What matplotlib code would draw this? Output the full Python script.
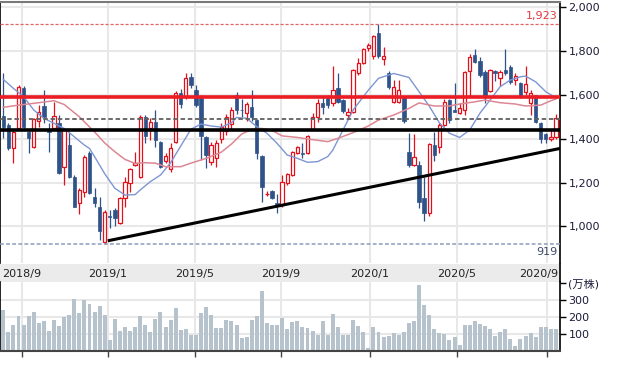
import matplotlib
matplotlib.use('Agg')
import matplotlib.pyplot as plt
import numpy as np

plt.rcParams['font.family'] = ['DejaVu Sans', 'Noto Sans CJK JP']

# weekly candles
opens = [1502, 1461, 1356, 1448, 1628, 1431, 1363, 1481, 1548, 1440,
         1446, 1472, 1270, 1370, 1226, 1106, 1158, 1335, 1136, 1090,
         931, 1047, 1075, 1015, 1128, 1199, 1280, 1226, 1496, 1446,
         1476, 1386, 1299, 1260, 1386, 1605, 1590, 1681, 1620, 1583,
         1405, 1295, 1310, 1396, 1435, 1466, 1598, 1532, 1517, 1545,
         1484, 1320, 1146, 1161, 1106, 1098, 1196, 1234, 1335, 1332,
         1333, 1442, 1499, 1563, 1583, 1560, 1628, 1575, 1507, 1522,
         1699, 1745, 1814, 1775, 1878, 1764, 1699, 1567, 1567, 1587,
         1340, 1280, 1280, 1128, 1061, 1370, 1363, 1462, 1575, 1532,
         1517, 1530, 1708, 1780, 1754, 1704, 1617, 1705, 1674, 1714,
         1726, 1666, 1651, 1613, 1560, 1598, 1469, 1420, 1396, 1405]
highs = [1698, 1470, 1440, 1645, 1638, 1440, 1495, 1552, 1620, 1470,
         1567, 1507, 1445, 1431, 1235, 1175, 1325, 1345, 1175, 1135,
         1075, 1074, 1085, 1135, 1227, 1265, 1340, 1505, 1505, 1493,
         1530, 1390, 1335, 1380, 1615, 1625, 1696, 1696, 1643, 1600,
         1410, 1385, 1395, 1470, 1510, 1545, 1613, 1580, 1567, 1620,
         1490, 1325, 1160, 1165, 1150, 1234, 1245, 1345, 1365, 1378,
         1415, 1515, 1580, 1590, 1600, 1730, 1696, 1580, 1540, 1715,
         1766, 1810, 1835, 1870, 1923, 1817, 1705, 1666, 1666, 1590,
         1425, 1420, 1300, 1226, 1380, 1431, 1470, 1580, 1580, 1654,
         1560, 1707, 1785, 1805, 1770, 1710, 1715, 1710, 1710, 1805,
         1735, 1700, 1655, 1730, 1620, 1600, 1475, 1425, 1440, 1511]
lows = [1401, 1350, 1289, 1440, 1445, 1334, 1355, 1454, 1470, 1340,
        1440, 1238, 1189, 1220, 1090, 1057, 1136, 1150, 1090, 939,
        919, 995, 1000, 1010, 1090, 1158, 1275, 1220, 1380, 1393,
        1363, 1268, 1290, 1250, 1380, 1540, 1580, 1630, 1545, 1302,
        1265, 1280, 1272, 1380, 1415, 1440, 1510, 1500, 1480, 1480,
        1306, 1113, 1140, 1125, 1063, 1090, 1190, 1230, 1330, 1311,
        1330, 1440, 1476, 1510, 1540, 1550, 1560, 1515, 1492, 1515,
        1690, 1740, 1800, 1760, 1765, 1734, 1625, 1560, 1560, 1470,
        1270, 1275, 1083, 1025, 1050, 1300, 1333, 1455, 1470, 1520,
        1510, 1505, 1590, 1745, 1680, 1560, 1612, 1660, 1640, 1690,
        1650, 1645, 1585, 1600, 1507, 1470, 1380, 1378, 1390, 1400]
closes = [1454, 1357, 1431, 1636, 1452, 1401, 1487, 1522, 1496, 1430,
          1502, 1242, 1439, 1226, 1090, 1166, 1317, 1154, 1106, 980,
          1067, 1043, 1038, 1130, 1204, 1260, 1290, 1500, 1411, 1476,
          1393, 1272, 1320, 1355, 1608, 1557, 1674, 1643, 1552, 1411,
          1325, 1370, 1382, 1454, 1496, 1532, 1532, 1528, 1557, 1496,
          1333, 1181, 1150, 1128, 1093, 1204, 1239, 1340, 1360, 1328,
          1411, 1499, 1563, 1545, 1552, 1623, 1567, 1526, 1522, 1711,
          1745, 1805, 1825, 1866, 1775, 1775, 1636, 1636, 1623, 1481,
          1280, 1316, 1113, 1061, 1375, 1325, 1461, 1565, 1484, 1522,
          1537, 1704, 1772, 1749, 1689, 1590, 1711, 1700, 1704, 1696,
          1658, 1684, 1590, 1648, 1608, 1476, 1396, 1396, 1408, 1492]
# volume, 10k shares
volumes = [241, 110, 154, 206, 154, 206, 231, 162, 177, 120,
           183, 148, 200, 212, 306, 224, 298, 277, 229, 266,
           212, 62, 189, 120, 143, 120, 143, 206, 154, 110,
           189, 229, 139, 183, 253, 125, 131, 96, 96, 224,
           258, 214, 137, 137, 183, 177, 154, 79, 85, 183,
           206, 351, 166, 154, 154, 194, 131, 172, 177, 143,
           135, 117, 96, 177, 96, 220, 139, 96, 96, 183,
           148, 114, 17, 143, 114, 85, 91, 108, 96, 114,
           166, 177, 386, 272, 212, 131, 108, 102, 67, 85,
           33, 154, 154, 177, 160, 148, 131, 91, 114, 131,
           73, 27, 73, 91, 108, 85, 143, 143, 131, 131]

# moving averages (candle index, price)
ma13_idx = [0, 2, 4, 6, 8, 10, 12, 14, 16, 17, 18, 20, 22, 24, 26, 27, 29, 31, 33, 35,
            37, 39, 41, 43, 45, 46, 48, 50, 52, 54, 56, 58, 60, 62, 64, 65, 67, 69, 72,
            74, 77, 80, 82, 84, 86, 88, 90, 92, 94, 96, 98, 100, 102, 103, 105, 107, 109]
ma13_val = [1669, 1628, 1590, 1530, 1492, 1469, 1446, 1408, 1370, 1355, 1318, 1240, 1174,
            1143, 1145, 1166, 1204, 1234, 1290, 1366, 1442, 1466, 1457, 1452, 1472, 1496,
            1492, 1454, 1424, 1378, 1325, 1310, 1292, 1295, 1318, 1348, 1439, 1530, 1620,
            1674, 1696, 1678, 1613, 1548, 1472, 1424, 1405, 1439, 1515, 1575, 1636, 1666,
            1681, 1684, 1658, 1613, 1585]
ma26_idx = [0, 3, 7, 10, 12, 15, 18, 20, 22, 24, 26, 28, 30, 32, 35, 37, 40, 43, 45, 47,
            49, 51, 53, 55, 58, 61, 64, 66, 69, 72, 74, 77, 80, 82, 85, 88, 90, 93, 95, 98,
            101, 103, 106, 108, 109]
ma26_val = [1542, 1552, 1563, 1572, 1555, 1499, 1430, 1380, 1340, 1305, 1287, 1290, 1288,
            1272, 1272, 1288, 1310, 1338, 1375, 1420, 1442, 1446, 1437, 1412, 1405, 1395,
            1386, 1401, 1427, 1457, 1484, 1507, 1537, 1562, 1548, 1548, 1557, 1567, 1575,
            1563, 1557, 1548, 1552, 1572, 1580]

period_high = 1923
period_low = 919
resistance = 1589
support = 1438
midline = 1490
trend_idx = [20.6, 109.8]
trend_val = [935, 1355]

month_labels = ['2018/9', '2019/1', '2019/5', '2019/9', '2020/1', '2020/5', '2020/9']
month_pos = [3.69, 20.65, 37.8, 54.8, 72.3, 89.5, 107.2]
price_ticks = [1000, 1200, 1400, 1600, 1800, 2000]
vol_ticks = [100, 200, 300, 400]
vol_tick_labels = ['100', '200', '300', '(万株)']

up_color = '#e3101c'
down_color = '#2f5289'
grid_color = '#e8e8e8'
xmin, xmax = -0.65, 109.8

fig = plt.figure(figsize=(6.25, 3.77), dpi=100)
W, H = 625, 377
ax = fig.add_axes([0, 1 - 263 / H, 560 / W, 261 / H])
ax_d = fig.add_axes([0, 1 - 282 / H, 560 / W, 18 / H])
ax_v = fig.add_axes([0, 1 - 351 / H, 560 / W, 69 / H])

x = np.arange(len(opens))
o = np.array(opens)
c = np.array(closes)
up = c >= o

# price panel
for p in price_ticks:
    ax.axhline(p, color=grid_color, lw=1.5, zorder=0)
for m in month_pos:
    ax.axvline(m, color=grid_color, lw=1.5, zorder=0)

ax.vlines(x[up], np.array(lows)[up], np.array(highs)[up], color=up_color, lw=0.9, zorder=2)
ax.vlines(x[~up], np.array(lows)[~up], np.array(highs)[~up], color=down_color, lw=0.9, zorder=2)
body = np.maximum(np.abs(c - o), 2)
ax.bar(x[up], body[up], bottom=o[up], width=0.66, facecolor='white',
       edgecolor=up_color, lw=0.9, zorder=3)
ax.bar(x[~up], body[~up], bottom=c[~up], width=0.66, facecolor=down_color,
       edgecolor=down_color, lw=0.5, zorder=3)

ax.plot(ma13_idx, ma13_val, color='#7d96d3', lw=1.0, zorder=4)
ax.plot(ma26_idx, ma26_val, color='#dc8793', lw=1.1, zorder=4)

ax.axhline(period_high, color='#e26464', lw=0.9, ls=(0, (2.5, 1.5)), zorder=5)
ax.axhline(period_low, color='#8b9dbb', lw=1.1, ls=(0, (2.5, 1.5)), zorder=5)
ax.axhline(midline, color='#606060', lw=1.3, ls=(0, (2.5, 1.5)), zorder=5)
ax.axhline(resistance, color='#ec1c24', lw=2.6, zorder=6)
ax.axhline(support, color='black', lw=2.6, zorder=6)
ax.plot(trend_idx, trend_val, color='black', lw=2.2, zorder=6, solid_capstyle='butt')

ax.text(109.3, period_high + 10, '{:,}'.format(period_high), color='#e0393f',
        fontsize=8, ha='right', va='bottom')
ax.text(109.3, period_low - 10, '{:,}'.format(period_low), color='#3d4c6b',
        fontsize=8, ha='right', va='top')

ax.set_xlim(xmin, xmax)
ax.set_ylim(834, 2021)
ax.set_xticks([])
ax.yaxis.tick_right()
ax.set_yticks(price_ticks)
ax.set_yticklabels(['{:,}'.format(p) for p in price_ticks])
ax.tick_params(axis='y', length=4, width=1, colors='black', labelcolor='#1c1c3a',
               labelsize=8, pad=2)
ax.spines['bottom'].set_visible(False)
ax.spines['top'].set_color('#7a7a7a')
ax.spines['top'].set_linewidth(1.5)
ax.spines['left'].set_linewidth(1.2)
ax.spines['right'].set_linewidth(1.2)

# date band
ax_d.set_facecolor('#ebebeb')
ax_d.set_xlim(xmin, xmax)
ax_d.set_ylim(0, 1)
for i, (m, lab) in enumerate(zip(month_pos, month_labels)):
    if i == len(month_labels) - 1:
        ax_d.text(109.4, 0.45, lab, ha='right', va='center', fontsize=8, color='#222222')
    else:
        ax_d.text(m, 0.45, lab, ha='center', va='center', fontsize=8, color='#222222')
ax_d.set_xticks([])
ax_d.set_yticks([])
for s in ['top', 'bottom', 'left']:
    ax_d.spines[s].set_visible(False)
ax_d.spines['right'].set_linewidth(1.2)

# volume panel
for v in vol_ticks[:3]:
    ax_v.axhline(v, color=grid_color, lw=1.5, zorder=0)
for m in month_pos:
    ax_v.axvline(m, color=grid_color, lw=1.5, zorder=0)
ax_v.bar(x, volumes, width=0.78, color='#b7c3cc', zorder=2)
ax_v.set_xlim(xmin, xmax)
ax_v.set_ylim(0, 406)
ax_v.set_xticks(month_pos)
ax_v.set_xticklabels([])
ax_v.tick_params(axis='x', length=4, width=1, colors='#444444')
ax_v.yaxis.tick_right()
ax_v.set_yticks(vol_ticks)
ax_v.set_yticklabels(vol_tick_labels)
ax_v.tick_params(axis='y', length=4, width=1, colors='black', labelcolor='#1c1c3a',
                 labelsize=8, pad=2)
ax_v.spines['top'].set_visible(False)
ax_v.spines['bottom'].set_color('#444444')
ax_v.spines['bottom'].set_linewidth(1.5)
ax_v.spines['left'].set_linewidth(1.2)
ax_v.spines['right'].set_linewidth(1.2)

fig.savefig('out.png', dpi=100)
